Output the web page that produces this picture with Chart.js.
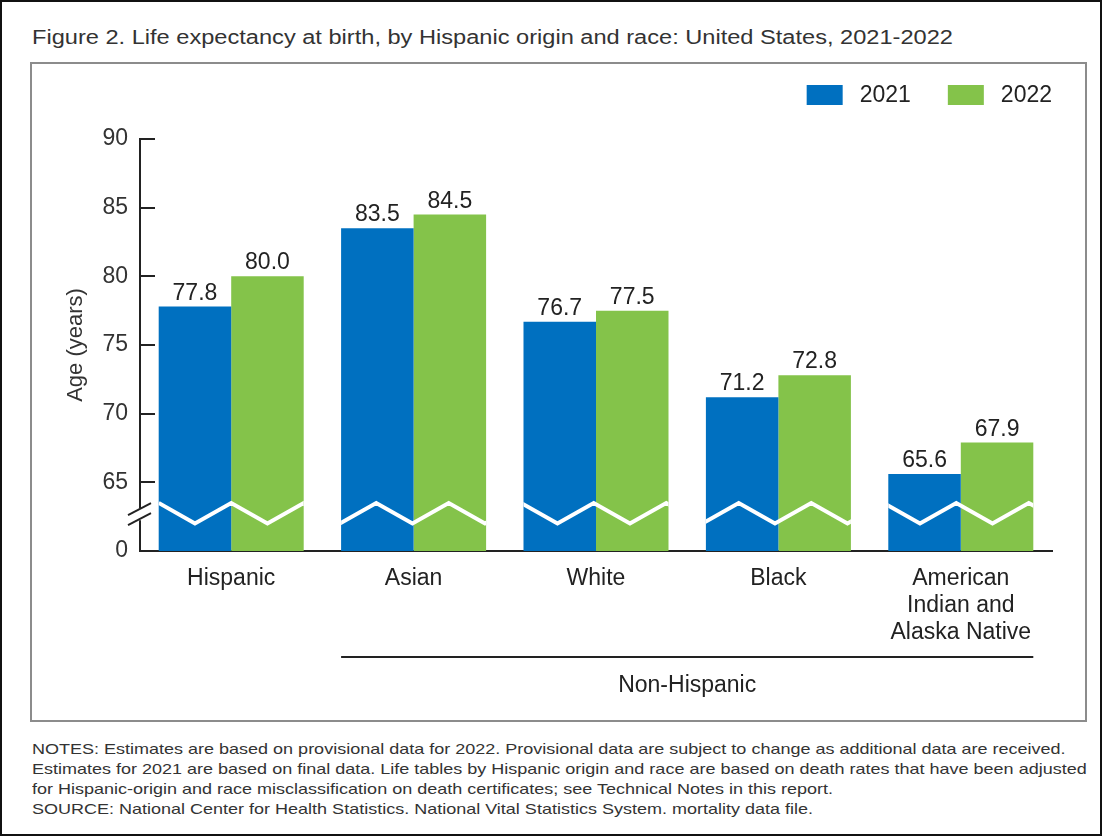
<!DOCTYPE html>
<html>
<head>
<meta charset="utf-8">
<script src="https://cdn.jsdelivr.net/npm/chart.js@4.4.0/dist/chart.umd.min.js"></script>
<style>
    body { margin: 0; background: #fff; font-family: "Liberation Sans", Arial, sans-serif; }
    #page { position: relative; width: 1102px; height: 836px; box-sizing: border-box; border: 2px solid #111; overflow: hidden; }
    #title { position: absolute; left: 30px; top: 24px; font-size: 20px; color: #333; white-space: nowrap; transform: scaleX(1.18); transform-origin: left top; }
    #box { position: absolute; left: 28px; top: 60px; width: 1057px; height: 660px; box-sizing: border-box; border: 2px solid #8c8c8c; }
    #chartWrap { position: absolute; left: 0; top: 0; width: 1053px; height: 656px; }
    #notes { position: absolute; left: 30px; top: 737px; font-size: 15px; line-height: 20px; color: #333; white-space: nowrap; transform: scaleX(1.2); transform-origin: left top; }
</style>
</head>
<body>
<div id="page">
    <div id="title">Figure 2. Life expectancy at birth, by Hispanic origin and race: United States, 2021-2022</div>
    <div id="box">
        <div id="chartWrap"><canvas id="lifeChart" width="1053" height="656"></canvas></div>
    </div>
    <div id="notes">
        NOTES: Estimates are based on provisional data for 2022. Provisional data are subject to change as additional data are received.<br>
        Estimates for 2021 are based on final data. Life tables by Hispanic origin and race are based on death rates that have been adjusted<br>
        for Hispanic-origin and race misclassification on death certificates; see Technical Notes in this report.<br>
        SOURCE: National Center for Health Statistics. National Vital Statistics System. mortality data file.
    </div>
</div>

<script>
// Données
const categories = ["Hispanic", "Asian", "White", "Black", ["American", "Indian and", "Alaska Native"]];
const values2021 = [77.8, 83.5, 76.7, 71.2, 65.6];
const values2022 = [80.0, 84.5, 77.5, 72.8, 67.9];
const seriesLabels = ["2021", "2022"];
const seriesColors = ["#0070c0", "#84c34a"];
const groupLabel = "Non-Hispanic";

// axe coupé : la graduation 60 représente le 0
const axisMin = 60;
const axisMax = 90;
const breakHigh = 63.5;
const breakLow = 62.0;

const textColor = "#333";
const fontFamily = "'Liberation Sans', Arial, sans-serif";
const fontSize = 23;

// Étiquettes de valeurs, zigzag, graduations, légende et accolade "Non-Hispanic"
const decorPlugin = {
    id: "decor",
    afterDatasetsDraw(chart) {
        const ctx = chart.ctx;
        const y = chart.scales.y;
        const area = chart.chartArea;
        const metas = [chart.getDatasetMeta(0), chart.getDatasetMeta(1)];

        // zigzag blanc continu
        const first = metas[0].data[0];
        const last = metas[1].data[metas[1].data.length - 1];
        const bw = first.width;
        const x0 = first.x - bw / 2;
        const x1 = last.x + last.width / 2;
        const yHigh = y.getPixelForValue(breakHigh);
        const yLow = y.getPixelForValue(breakLow);
        ctx.save();
        ctx.beginPath();
        metas.forEach(m => m.data.forEach(b => {
            ctx.rect(b.x - b.width / 2, area.top, b.width, area.bottom - area.top);
        }));
        ctx.clip();
        ctx.beginPath();
        for (let k = 0, x = x0; x <= x1 + bw; k++, x = x0 + k * bw / 2) {
            const yy = k % 2 === 0 ? yHigh : yLow;
            if (k === 0) ctx.moveTo(x, yy); else ctx.lineTo(x, yy);
        }
        ctx.strokeStyle = "#fff";
        ctx.lineWidth = 4;
        ctx.stroke();
        ctx.restore();

        // valeurs au-dessus des barres
        ctx.save();
        ctx.font = fontSize + "px " + fontFamily;
        ctx.fillStyle = "#222";
        ctx.textAlign = "center";
        ctx.textBaseline = "alphabetic";
        metas.forEach((m, i) => {
            const vals = i === 0 ? values2021 : values2022;
            m.data.forEach((b, j) => {
                ctx.fillText(vals[j].toFixed(1), b.x, b.y - 7);
            });
        });
        ctx.restore();
    },
    afterDraw(chart) {
        const ctx = chart.ctx;
        const y = chart.scales.y;
        const area = chart.chartArea;
        const ax = area.left;

        ctx.save();
        ctx.strokeStyle = "#222";
        ctx.lineWidth = 2;

        // graduations vers l'intérieur
        y.ticks.forEach(t => {
            if (t.value <= axisMin) return;
            const py = Math.round(y.getPixelForValue(t.value));
            ctx.beginPath();
            ctx.moveTo(ax, py);
            ctx.lineTo(ax + 15, py);
            ctx.stroke();
        });

        // coupure de l'axe
        const yb = y.getPixelForValue((breakHigh + breakLow) / 2);
        ctx.fillStyle = "#fff";
        ctx.fillRect(ax - 2, yb - 5, 4, 12);
        [-4, 6].forEach(d => {
            ctx.beginPath();
            ctx.moveTo(ax - 12, yb + d + 6);
            ctx.lineTo(ax + 11, yb + d - 6);
            ctx.stroke();
        });

        // accolade "Non-Hispanic"
        const m0 = chart.getDatasetMeta(0).data;
        const m1 = chart.getDatasetMeta(1).data;
        const lx = m0[1].x - m0[1].width / 2;
        const rx = m1[m1.length - 1].x + m1[m1.length - 1].width / 2;
        const ly = area.bottom + 106;
        ctx.beginPath();
        ctx.moveTo(lx, ly);
        ctx.lineTo(rx, ly);
        ctx.stroke();
        ctx.font = fontSize + "px " + fontFamily;
        ctx.fillStyle = "#222";
        ctx.textAlign = "center";
        ctx.textBaseline = "middle";
        ctx.fillText(groupLabel, (lx + rx) / 2, ly + 29);

        // légende
        ctx.textAlign = "left";
        const boxW = 36, boxH = 20, gap = 17, itemGap = 37;
        const widths = seriesLabels.map(l => ctx.measureText(l).width);
        let total = 0;
        widths.forEach((w, i) => { total += boxW + gap + w + (i > 0 ? itemGap : 0); });
        let cx = area.right - total;
        const ly2 = area.top - 44;
        seriesLabels.forEach((l, i) => {
            ctx.fillStyle = seriesColors[i];
            ctx.fillRect(cx, ly2 - boxH / 2, boxW, boxH);
            ctx.fillStyle = "#222";
            ctx.fillText(l, cx + boxW + gap, ly2 + 1);
            cx += boxW + gap + widths[i] + itemGap;
        });
        ctx.restore();
    }
};

const ctx = document.getElementById("lifeChart").getContext("2d");

new Chart(ctx, {
    type: "bar",
    data: {
        labels: categories,
        datasets: [
            { label: seriesLabels[0], data: values2021, backgroundColor: seriesColors[0] },
            { label: seriesLabels[1], data: values2022, backgroundColor: seriesColors[1] }
        ]
    },
    options: {
        responsive: false,
        animation: false,
        devicePixelRatio: 1,
        layout: { padding: { top: 75, right: 33, left: 0, bottom: 0 } },
        datasets: { bar: { categoryPercentage: 0.795, barPercentage: 1.0 } },
        plugins: {
            legend: { display: false },
            tooltip: { enabled: false }
        },
        scales: {
            x: {
                grid: { display: false, drawTicks: false },
                border: { display: true, color: "#222", width: 2 },
                ticks: {
                    color: "#222",
                    padding: 14,
                    font: { size: fontSize, family: fontFamily, lineHeight: 1.17 },
                    maxRotation: 0,
                    autoSkip: false
                },
                afterFit(s) { s.height = 169; }
            },
            y: {
                min: axisMin,
                max: axisMax,
                grid: { display: false, drawTicks: false },
                border: { display: true, color: "#222", width: 2 },
                ticks: {
                    stepSize: 5,
                    color: textColor,
                    padding: 12,
                    font: { size: fontSize, family: fontFamily },
                    callback: v => (v === axisMin ? "0" : v)
                },
                title: {
                    display: true,
                    text: "Age (years)",
                    color: textColor,
                    font: { size: fontSize - 1, family: fontFamily },
                    padding: { top: 31, bottom: 0 }
                },
                afterFit(s) { s.width = 108; }
            }
        }
    },
    plugins: [decorPlugin]
});
</script>
</body>
</html>
